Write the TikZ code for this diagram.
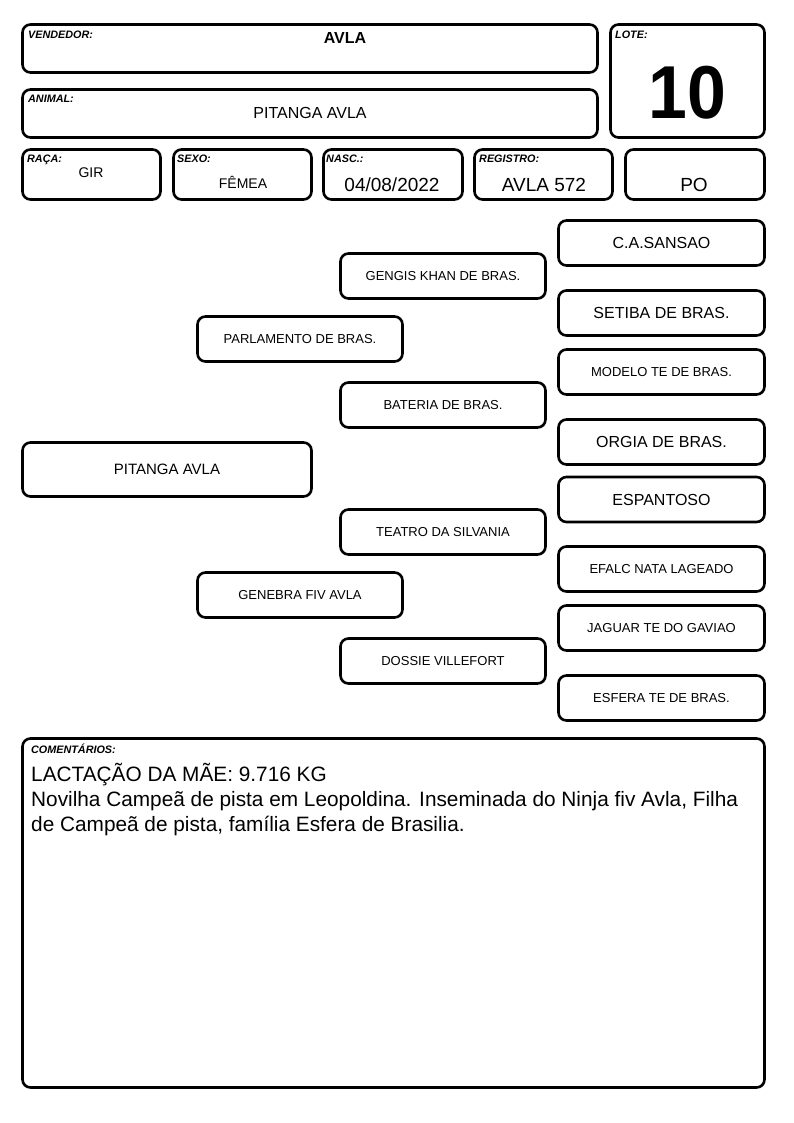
\documentclass[tikz,border=0pt]{standalone}
\usepackage{fontspec}
\setmainfont{Liberation Sans}
\newcommand{\fsz}[1]{\fontsize{#1}{#1}\selectfont}
\begin{document}
\begin{tikzpicture}[x=1pt,y=-1pt,
  box/.style={draw, line width=2.6pt, rounded corners=8pt, inner sep=0pt},
  ped/.style={box, minimum width=205pt, minimum height=45pt, font=\fsz{13}},
  pedbig/.style={ped, font=\fsz{16}},
  lbl/.style={font=\fsz{10.8}\bfseries\itshape, anchor=base west, inner sep=0pt},
  val/.style={anchor=base, inner sep=0pt},
  cline/.style={anchor=base west, inner sep=0pt, font=\fsz{20.8}}]
\useasboundingbox[fill=white] (0,0) rectangle (794,1123);
% header boxes
\node[box, minimum width=575pt, minimum height=48pt] (vend) at (310,48.5) {};
\node[box, minimum width=154pt, minimum height=113pt] (lote) at (687.5,81) {};
\node[box, minimum width=575pt, minimum height=48pt] (animal) at (310,113.5) {};
\node[box, minimum width=138pt, minimum height=50pt] (raca) at (91.5,174.5) {};
\node[box, minimum width=138pt, minimum height=50pt] (sexo) at (242.5,174.5) {};
\node[box, minimum width=139pt, minimum height=50pt] (nasc) at (393,174.5) {};
\node[box, minimum width=138pt, minimum height=50pt] (reg) at (543.5,174.5) {};
\node[box, minimum width=139pt, minimum height=50pt] (po) at (695,174.5) {};
% header labels
\node[lbl] (lvend) at (28,39) {VENDEDOR:};
\node[lbl] (llote) at (615,39) {LOTE:};
\node[lbl] (lanimal) at (28,103) {ANIMAL:};
\node[lbl] (lraca) at (27,163) {RAÇA:};
\node[lbl] (lsexo) at (177,163) {SEXO:};
\node[lbl] (lnasc) at (326,163) {NASC.:};
\node[lbl] (lreg) at (479,163) {REGISTRO:};
% header values
\node[val, font=\fsz{16}\bfseries] (tvend) at (345,43.5) {AVLA};
\node[val, font=\fsz{75}\bfseries, xscale=0.93] (tlote) at (687,119) {10};
\node[val, font=\fsz{16}] (tanimal) at (310,118.7) {PITANGA AVLA};
\node[val, font=\fsz{14}] (traca) at (91,178) {GIR};
\node[val, font=\fsz{14}] (tsexo) at (243,189) {FÊMEA};
\node[val, font=\fsz{19}] (tnasc) at (392,191.5) {04/08/2022};
\node[val, font=\fsz{19}] (treg) at (544,192) {AVLA 572};
\node[val, font=\fsz{19}] (tpo) at (694,192) {PO};
% pedigree
\node[box, minimum width=289pt, minimum height=54pt, font=\fsz{15}] (p0) at (167,469.5) {PITANGA AVLA};
\node[ped] (pai) at (300,339) {PARLAMENTO DE BRAS.};
\node[ped] (mae) at (300,595) {GENEBRA FIV AVLA};
\node[ped] (avp) at (443,276) {GENGIS KHAN DE BRAS.};
\node[ped] (avmp) at (443,405) {BATERIA DE BRAS.};
\node[ped] (avpm) at (443,532) {TEATRO DA SILVANIA};
\node[ped] (avmm) at (443,661) {DOSSIE VILLEFORT};
\node[pedbig, minimum width=206pt] (b1) at (661.5,243) {C.A.SANSAO};
\node[pedbig, minimum width=206pt] (b2) at (661.5,313) {SETIBA DE BRAS.};
\node[ped, minimum width=206pt] (b3) at (661.5,372) {MODELO TE DE BRAS.};
\node[pedbig, minimum width=206pt] (b4) at (661.5,442) {ORGIA DE BRAS.};
\node[pedbig, minimum width=206pt] (b5) at (661.5,499.5) {ESPANTOSO};
\node[ped, minimum width=206pt] (b6) at (661.5,569) {EFALC NATA LAGEADO};
\node[ped, minimum width=206pt] (b7) at (661.5,628) {JAGUAR TE DO GAVIAO};
\node[ped, minimum width=206pt] (b8) at (661.5,698) {ESFERA TE DE BRAS.};
% comments
\node[box, minimum width=742pt, minimum height=349pt] (com) at (393.5,913) {};
\node[lbl] (lcom) at (31,753) {COMENTÁRIOS:};
\node[cline] (c1) at (31,781) {LACTAÇÃO DA MÃE: 9.716 KG};
\node[cline] (c2) at (31,806) {Novilha Campeã de pista em Leopoldina. Inseminada do Ninja fiv Avla, Filha};
\node[cline] (c3) at (31,831) {de Campeã de pista, família Esfera de Brasilia.};
\end{tikzpicture}
\end{document}
